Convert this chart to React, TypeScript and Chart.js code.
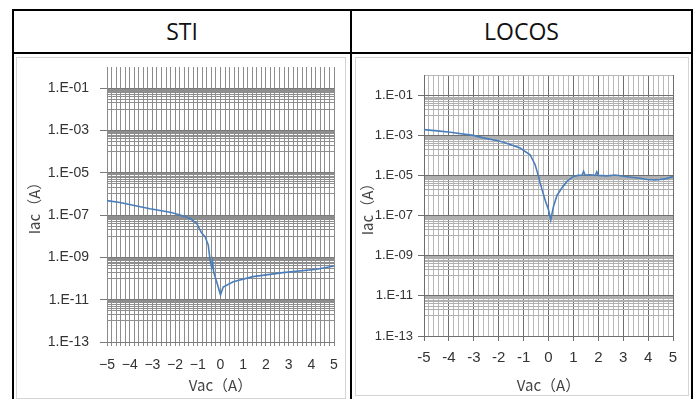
import React, { useEffect, useRef } from 'react';
import { Chart, registerables } from 'chart.js';
Chart.register(...registerables);

// ---- data ----
const stiVac = [-5.0, -4.43, -3.11, -2.22, -1.78, -1.34, -1.05, -0.83, -0.68, -0.54, -0.46, -0.39, -0.35, -0.3, -0.15, 0.0, 0.12, 0.56, 1.43, 2.75, 4.24, 5.0];
const stiIac = [4.8e-7, 3.9e-7, 2.0e-7, 1.35e-7, 1.0e-7, 6.9e-8, 4.1e-8, 1.4e-8, 9.5e-9, 3.9e-9, 7.6e-10, 3.4e-10, 6.3e-10, 2.0e-10, 6.0e-11, 1.7e-11, 4.0e-11, 7.1e-11, 1.23e-10, 1.9e-10, 2.75e-10, 3.9e-10];

const locosVac = [-5.0, -4.36, -3.95, -3.02, -2.62, -1.94, -1.54, -1.14, -0.74, -0.54, -0.4, -0.33, -0.26, -0.13, 0.0, 0.09, 0.2, 0.34, 0.54, 0.74, 1.0, 1.19, 1.35, 1.41, 1.47, 1.67, 1.88, 1.94, 2.0, 2.35, 2.68, 3.01, 3.4, 3.69, 3.95, 4.29, 4.49, 4.73, 5.0];
const locosIac = [1.9e-3, 1.6e-3, 1.4e-3, 9.8e-4, 7.4e-4, 5.0e-4, 3.5e-4, 2.3e-4, 1.07e-4, 3.5e-5, 8.9e-6, 4.0e-6, 1.95e-6, 5.6e-7, 1.95e-7, 6.0e-8, 2.8e-7, 1.0e-6, 2.4e-6, 5.0e-6, 8.9e-6, 1.0e-5, 1.05e-5, 1.6e-5, 1.05e-5, 1.07e-5, 1.0e-5, 1.5e-5, 1.0e-5, 9.5e-6, 1.05e-5, 9.1e-6, 7.9e-6, 7.2e-6, 6.2e-6, 6.0e-6, 6.2e-6, 6.9e-6, 8.7e-6];

const yMajorExps = [-13, -11, -9, -7, -5, -3, -1];
const yMajorLabels = ['1.E-13', '1.E-11', '1.E-09', '1.E-07', '1.E-05', '1.E-03', '1.E-01'];
const yMinorMultipliers = [1, 2, 3, 4, 5, 6, 7, 8, 9];
const xMajorValues = [-5, -4, -3, -2, -1, 0, 1, 2, 3, 4, 5];
const stiXLabels = ['\u22125', '\u22124', '\u22123', '\u22122', '\u22121', '0', '1', '2', '3', '4', '5'];
const locosXLabels = ['-5', '-4', '-3', '-2', '-1', '0', '1', '2', '3', '4', '5'];
const xMinorStep = 0.2;

type Cfg = {
  left: number; top: number; w: number; h: number;
  yWidth: number; xHeight: number; padRight: number; padTop: number;
  yTickLen: number; yTickPad: number; xTickLen: number; xTickPad: number;
  yTitlePad: number; xTitlePad: number;
  tickFontY: any; tickFontX: any; titleFont: any;
  xLabels: string[];
  hMajor: string; hMinor: string; vMajor: string; vMinor: string; topLine: string;
  xTickAll: boolean;
};

function buildYTicks() {
  const t: any[] = [];
  yMajorExps.forEach((e, i) => {
    t.push({ value: Number('1e' + e), lbl: yMajorLabels[i], maj: true });
    const n = e + 1;
    for (const k of yMinorMultipliers) {
      if (n === 0 && k > 1) break;
      t.push({ value: Number(k + 'e' + n), lbl: '', maj: false, top: n === 0 });
    }
  });
  return t;
}

function buildXTicks(labels: string[]) {
  const t: any[] = [];
  const n = Math.round((xMajorValues[xMajorValues.length - 1] - xMajorValues[0]) / xMinorStep);
  for (let i = 0; i <= n; i++) {
    const v = +(xMajorValues[0] + i * xMinorStep).toFixed(4);
    const mi = xMajorValues.indexOf(v);
    t.push({ value: v, lbl: mi >= 0 ? labels[mi] : '', maj: mi >= 0 });
  }
  return t;
}

function LogChart({ vac, iac, cfg }: { vac: number[]; iac: number[]; cfg: Cfg }) {
  const ref = useRef<HTMLCanvasElement>(null);
  useEffect(() => {
    const zeroPad = (s: any) => { s.paddingLeft = 0; s.paddingRight = 0; s.paddingTop = 0; s.paddingBottom = 0; };
    const chart = new Chart(ref.current!, {
      type: 'line',
      data: {
        datasets: [{
          data: vac.map((v, i) => ({ x: v, y: iac[i] })),
          borderColor: '#4a7ebb',
          borderWidth: 1.6,
          pointRadius: 0,
          tension: 0,
          fill: false,
        }],
      },
      options: {
        animation: false,
        responsive: false,
        devicePixelRatio: 1,
        layout: { padding: { left: 0, right: cfg.padRight, top: cfg.padTop, bottom: 0 } },
        plugins: { legend: { display: false }, tooltip: { enabled: false } },
        scales: {
          x: {
            type: 'linear', min: -5, max: 5,
            afterBuildTicks: (s: any) => { s.ticks = buildXTicks(cfg.xLabels); },
            afterFit: (s: any) => { s.height = cfg.xHeight; zeroPad(s); },
            ticks: {
              autoSkip: false, maxRotation: 0, minRotation: 0, padding: cfg.xTickPad,
              font: cfg.tickFontX, color: '#333',
              callback: (_v: any, i: number, ticks: any[]) => ticks[i].lbl,
            },
            grid: {
              lineWidth: 1,
              color: (c: any) => (c.tick && c.tick.maj ? cfg.vMajor : cfg.vMinor),
              tickLength: cfg.xTickLen,
              tickColor: (c: any) => (cfg.xTickAll || (c.tick && c.tick.maj) ? cfg.vMajor : 'rgba(0,0,0,0)'),
            },
            border: { color: cfg.hMajor },
            title: { display: true, text: 'Vac（A）', font: cfg.titleFont, color: '#444', padding: { top: 0, bottom: cfg.xTitlePad } },
          },
          y: {
            type: 'logarithmic', min: 1e-13, max: 1,
            afterBuildTicks: (s: any) => { s.ticks = buildYTicks(); },
            afterFit: (s: any) => { s.width = cfg.yWidth; zeroPad(s); },
            ticks: {
              autoSkip: false, padding: cfg.yTickPad,
              font: cfg.tickFontY, color: '#333',
              callback: (_v: any, i: number, ticks: any[]) => ticks[i].lbl,
            },
            grid: {
              lineWidth: 1,
              color: (c: any) => (c.tick && c.tick.top ? cfg.topLine : c.tick && c.tick.maj ? cfg.hMajor : cfg.hMinor),
              tickLength: cfg.yTickLen,
              tickColor: (c: any) => (c.tick && c.tick.maj ? cfg.hMajor : 'rgba(0,0,0,0)'),
            },
            border: { color: cfg.vMajor },
            title: { display: true, text: 'Iac（A）', font: cfg.titleFont, color: '#444', padding: { top: cfg.yTitlePad, bottom: 0 } },
          },
        },
      } as any,
    });
    return () => chart.destroy();
  }, []);
  return (
    <canvas ref={ref} width={cfg.w} height={cfg.h}
      style={{ position: 'absolute', left: cfg.left, top: cfg.top, width: cfg.w, height: cfg.h }} />
  );
}

const titleFont = { family: '"Noto Sans CJK JP", "DejaVu Sans", sans-serif', size: 15, lineHeight: 1.2 };

const stiCfg: Cfg = {
  left: 17, top: 57, w: 328, h: 340,
  yWidth: 90, xHeight: 55, padRight: 11, padTop: 10,
  yTickLen: 7, yTickPad: 11, xTickLen: 4, xTickPad: 11,
  yTitlePad: 8, xTitlePad: 3,
  tickFontY: { family: '"Liberation Sans", Arial, sans-serif', size: 14, lineHeight: 1.2 },
  tickFontX: { family: '"Liberation Sans", Arial, sans-serif', size: 14, lineHeight: 1.2 },
  titleFont,
  xLabels: stiXLabels,
  hMajor: '#7a7a7a', hMinor: '#8e8e8e', vMajor: '#8a8a8a', vMinor: '#8e8e8e', topLine: 'rgba(0,0,0,0)',
  xTickAll: true,
};

const locosCfg: Cfg = {
  left: 355, top: 57, w: 333, h: 338,
  yWidth: 69, xHeight: 59, padRight: 15, padTop: 18,
  yTickLen: 6, yTickPad: 5, xTickLen: 5, xTickPad: 8,
  yTitlePad: 3, xTitlePad: 1,
  tickFontY: { family: '"Liberation Sans Narrow", "Liberation Sans", sans-serif', size: 13, lineHeight: 1.2 },
  tickFontX: { family: '"Liberation Sans Narrow", "Liberation Sans", sans-serif', size: 15, lineHeight: 1.2 },
  titleFont,
  xLabels: locosXLabels,
  hMajor: '#6e6e6e', hMinor: '#b0b0b0', vMajor: '#6e6e6e', vMinor: '#b8b8b8', topLine: '#b8b8b8',
  xTickAll: false,
};

const line = (l: number, t: number, w: number, h: number, c: string) => (
  <div style={{ position: 'absolute', left: l, top: t, width: w, height: h, background: c }} />
);

export default function App() {
  const headFont: React.CSSProperties = {
    position: 'absolute', top: 10, height: 42, lineHeight: '42px', textAlign: 'center',
    fontFamily: '"Open Sans", "Noto Sans", sans-serif', fontSize: 23, color: '#111',
  };
  return (
    <div style={{ position: 'absolute', left: 0, top: 0, width: 700, height: 399, overflow: 'hidden', background: '#fff' }}>
      {/* chart frames */}
      <div style={{ position: 'absolute', left: 16, top: 57, width: 328, height: 340, border: '1px solid #d4d4d4' }} />
      <div style={{ position: 'absolute', left: 355, top: 57, width: 332, height: 337, border: '1px solid #d4d4d4' }} />
      <LogChart vac={stiVac} iac={stiIac} cfg={stiCfg} />
      <LogChart vac={locosVac} iac={locosIac} cfg={locosCfg} />
      {/* table lines */}
      {line(12, 9, 681, 2, '#000')}
      {line(12, 52, 681, 2, '#000')}
      {line(12, 9, 2, 400, '#000')}
      {line(350, 9, 2, 400, '#000')}
      {line(691, 9, 2, 400, '#000')}
      <div style={{ ...headFont, left: 14, width: 336 }}>STI</div>
      <div style={{ ...headFont, left: 352, width: 339 }}>LOCOS</div>
    </div>
  );
}
